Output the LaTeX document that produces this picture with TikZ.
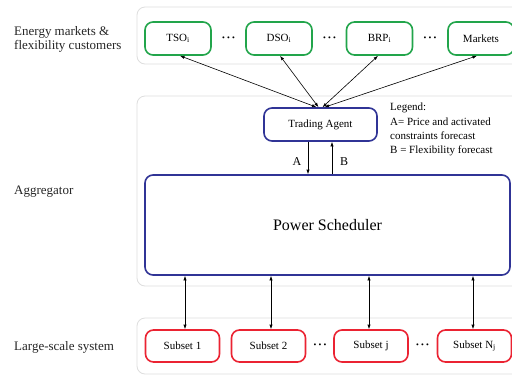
\documentclass[tikz,border=0pt]{standalone}
\usepackage{fontspec}
\setmainfont{Liberation Serif}
\usetikzlibrary{arrows.meta}
\definecolor{boxgreen}{RGB}{34,165,75}
\definecolor{boxblue}{RGB}{48,52,150}
\definecolor{boxred}{RGB}{235,35,50}
\definecolor{panelgray}{RGB}{222,222,222}
\newcommand{\threedots}{\textbullet\hspace{2.2pt}\textbullet\hspace{2.2pt}\textbullet}
\begin{document}
\begin{tikzpicture}[x=1pt,y=-1pt,
  panel/.style={draw=panelgray,line width=0.8pt,rounded corners=8pt},
  layer/.style={font=\fontsize{13}{15}\selectfont,anchor=west,align=left,text=black!85,inner sep=0pt},
  gbox/.style={draw=boxgreen,line width=1.6pt,rounded corners=8pt,minimum width=66pt,minimum height=33pt,font=\fontsize{11}{13}\selectfont,inner sep=0pt},
  rbox/.style={draw=boxred,line width=1.6pt,rounded corners=8pt,minimum width=74pt,minimum height=32pt,font=\fontsize{11}{13}\selectfont,inner sep=0pt},
  bbox/.style={draw=boxblue,line width=1.6pt,rounded corners=8pt,inner sep=0pt},
  dots/.style={font=\fontsize{8}{8}\selectfont,inner sep=0pt},
  dbl/.style={{Latex[length=4.5pt,width=3.2pt]}-{Latex[length=4.5pt,width=3.2pt]},line width=0.6pt},
  one/.style={-{Latex[length=4.5pt,width=3.2pt]},line width=0.6pt},
  lbl/.style={font=\fontsize{12}{14}\selectfont}]
\clip (0,0) rectangle (512,376);
\fill[white] (0,0) rectangle (512,376);

% layer panels
\draw[panel] (137,7) rectangle (540,64);
\draw[panel] (137,96) rectangle (540,286);
\draw[panel] (137,318) rectangle (540,374);

% layer titles
\node[layer] (tEnergy) at (14,39) {Energy markets \&\\[-1pt]flexibility customers};
\node[layer] (tAgg) at (14,192) {Aggregator};
\node[layer] (tLarge) at (14,347) {Large-scale system};

% market participants
\node[gbox] (tso) at (178,38.5) {TSO\textsubscript{i}};
\node[gbox] (dso) at (279,38.5) {DSO\textsubscript{i}};
\node[gbox] (brp) at (379.5,38.5) {BRP\textsubscript{i}};
\node[gbox] (mk) at (481,38.5) {Markets};
\node[dots] (d1) at (228.5,38.5) {\threedots};
\node[dots] (d2) at (329.5,38.5) {\threedots};
\node[dots] (d3) at (430,38.5) {\threedots};

% aggregator
\node[bbox,minimum width=113pt,minimum height=33pt,font=\fontsize{11}{13}\selectfont] (ta) at (320.5,124.5) {Trading Agent};
\node[bbox,minimum width=365pt,minimum height=100pt,font=\fontsize{16}{18}\selectfont] (ps) at (327.5,225) {Power Scheduler};
\node[anchor=north west,align=left,font=\fontsize{11}{14.3}\selectfont,inner sep=0pt] (legend) at (390,103) {Legend:\\A= Price and activated\\constraints forecast\\B = Flexibility forecast};

% subsets
\node[rbox] (s1) at (182.5,346) {Subset 1};
\node[rbox] (s2) at (268.5,346) {Subset 2};
\node[rbox] (sj) at (371,346) {Subset j};
\node[rbox] (sn) at (474.5,346) {Subset N\textsubscript{j}};
\node[dots] (d4) at (320,346) {\threedots};
\node[dots] (d5) at (422.5,346) {\threedots};

% trading links
\draw[dbl] ([xshift=-4pt]ta.north) -- ([xshift=2pt]tso.south);
\draw[dbl] ([xshift=-2pt]ta.north) -- ([xshift=1pt]dso.south);
\draw[dbl] ([xshift=2pt]ta.north) -- ([xshift=-1.5pt]brp.south);
\draw[dbl] ([xshift=4pt]ta.north) -- ([xshift=-4pt]mk.south);

% forecasts between agent and scheduler
\draw[one] ([xshift=-12.5pt]ta.south) -- ([xshift=-12.5pt]ta.south |- ps.north);
\draw[one] ([xshift=11.5pt]ta.south |- ps.north) -- ([xshift=11.5pt]ta.south);
\node[lbl] (la) at (297,162) {A};
\node[lbl] (lb) at (344,162) {B};

% scheduler to subsets
\draw[dbl] ([xshift=2.5pt]s1.north) -- ([xshift=2.5pt]s1.north |- ps.south);
\draw[dbl] ([xshift=2.5pt]s2.north) -- ([xshift=2.5pt]s2.north |- ps.south);
\draw[dbl] ([xshift=-2pt]sj.north) -- ([xshift=-2pt]sj.north |- ps.south);
\draw[dbl] ([xshift=-1.5pt]sn.north) -- ([xshift=-1.5pt]sn.north |- ps.south);
\end{tikzpicture}
\end{document}
